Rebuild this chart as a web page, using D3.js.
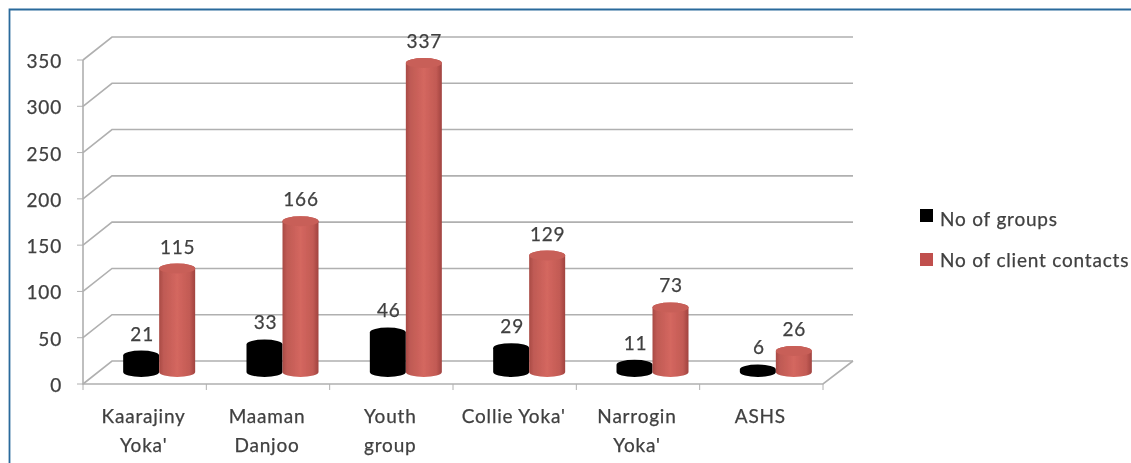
<!DOCTYPE html>
<html><head><meta charset="utf-8">
<script src="https://cdn.jsdelivr.net/npm/d3@7/dist/d3.min.js"></script>
<style>html,body{margin:0;padding:0;background:#fff;overflow:hidden}
text{font-family:Lato,"Open Sans",sans-serif;fill:#404040;font-size:19px;letter-spacing:.8px;stroke:#404040;stroke-width:.25px}</style></head>
<body><svg id="c" width="1131" height="463"></svg>
<script>
const categories=[["Kaarajiny","Yoka'"],["Maaman","Danjoo"],["Youth","group"],["Collie Yoka'"],["Narrogin","Yoka'"],["ASHS"]];
const groupCounts=[21,33,46,29,11,6];
const clientContacts=[115,166,337,129,73,26];
const seriesNames=["No of groups","No of client contacts"];
const yTicks=[0,50,100,150,200,250,300,350];

const svg=d3.select("#c");
const defs=svg.append("defs");
defs.append("filter").attr("id","soft").attr("x","-5%").attr("y","-5%").attr("width","110%").attr("height","110%")
  .append("feGaussianBlur").attr("stdDeviation",0.7);
const redGrad=defs.append("linearGradient").attr("id","red");
[[0,"#a84a45"],[.12,"#bf5a54"],[.5,"#d4675f"],[.85,"#c25a54"],[1,"#a0433f"]].forEach(([o,c])=>redGrad.append("stop").attr("offset",o).attr("stop-color",c));

svg.append("path").attr("d","M9.5,463V9.5H1131").attr("fill","none").attr("stroke","#2a6a9c").attr("stroke-width",1.8);

const g=svg.append("g").attr("filter","url(#soft)");
const x0=83,x1=823,depthX=29,depthY=-23;
const y=d3.scaleLinear().domain([0,350]).range([384,60]);
const band=d3.scaleBand().domain(d3.range(categories.length)).range([x0,x1]);
const grid="#b0b0b0";
yTicks.forEach(t=>{
  g.append("path").attr("fill","none").attr("stroke",grid).attr("stroke-width",1.6)
   .attr("d",`M${x0},${y(t)}L${x0+depthX},${y(t)+depthY}H${x1+depthX+1}`);
  g.append("line").attr("x1",x0-6).attr("x2",x0).attr("y1",y(t)).attr("y2",y(t)).attr("stroke",grid);
  g.append("text").attr("x",x0-21).attr("y",y(t)+8).attr("text-anchor","end").text(t);
});
g.append("path").attr("fill","none").attr("stroke",grid).attr("stroke-width",1.6)
 .attr("d",`M${x0},${y(350)}V${y(0)}H${x1}L${x1+depthX+1},${y(0)+depthY}`);
d3.range(categories.length+1).forEach(i=>{
  const px=i<categories.length?band(i):x1;
  g.append("line").attr("x1",px).attr("x2",px).attr("y1",y(0)).attr("y2",y(0)+6).attr("stroke",grid);
});
const barW=36,ry=5,baseOff=12;
function cyl(cx,v,fill){
  const base=y(0)-baseOff, top=base-(y(0)-y(v))+3, rx=barW/2;
  g.append("path").attr("fill",fill)
   .attr("d",`M${cx-rx},${top}A${rx},${ry} 0 0 1 ${cx+rx},${top}V${base}A${rx},${ry} 0 0 1 ${cx-rx},${base}Z`);
  return top;
}
categories.forEach((c,i)=>{
  const cc=band(i)+band.bandwidth()/2+depthX/2;
  const bx=cc-18, rx=cc+18;
  const t0=cyl(bx,groupCounts[i],"#000");
  const t1=cyl(rx,clientContacts[i],"url(#red)");
  g.append("ellipse").attr("cx",rx).attr("cy",t1).attr("rx",barW/2).attr("ry",ry).attr("fill","#c85f58");
  g.append("text").attr("x",bx+1).attr("y",t0-ry-10).attr("text-anchor","middle").text(groupCounts[i]);
  g.append("text").attr("x",rx+.5).attr("y",t1-ry-10).attr("text-anchor","middle").text(clientContacts[i]);
  const lab=g.append("text").attr("text-anchor","middle");
  c.forEach((l,k)=>lab.append("tspan").attr("x",band(i)+band.bandwidth()/2-1).attr("y",423+k*29).text(l));
});
const colors=["#000","#c0504d"];
seriesNames.forEach((s,i)=>{
  const ty=[226,267][i], ry0=[209,253][i];
  g.append("rect").attr("x",920).attr("y",ry0).attr("width",13).attr("height",13).attr("fill",colors[i]);
  g.append("text").attr("x",940).attr("y",ty).text(s);
});
</script></body></html>
